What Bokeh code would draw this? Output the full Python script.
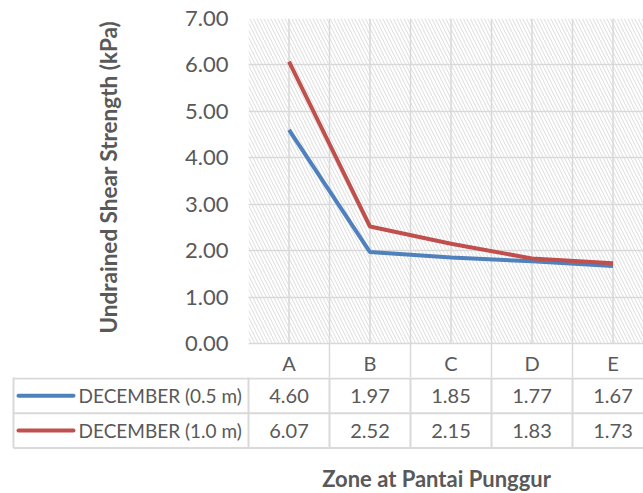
from bokeh.plotting import figure
from bokeh.models import Range1d, FixedTicker, PrintfTickFormatter, BoxAnnotation, Title
from bokeh.layouts import column, row
from bokeh.embed import file_html
from bokeh.resources import INLINE
from bokeh.core.properties import value

# ---------------- data ----------------
zones = ["A", "B", "C", "D", "E"]
series_names = ["DECEMBER (0.5 m)", "DECEMBER (1.0 m)"]
dec_05 = [4.60, 1.97, 1.85, 1.77, 1.67]
dec_10 = [6.07, 2.52, 2.15, 1.83, 1.73]
y_ticks = [0, 1, 2, 3, 4, 5, 6, 7]
colors = ["#4F81BD", "#C0504D"]

FONT = "Lato"
TXT = "#595959"
GRID = "#d9d9d9"

W, H = 643, 493
LEFT = 248          # plot-area left edge (px)
TOP = 18
PLOT_BOTTOM = 343   # plot-area bottom (px)
HDR = 34            # table header row height (px), drawn under the plot area
COL_W = 81.0        # width of one category column (px)
ROW_H = 34.7        # table row height (px)
PX_UNIT = (PLOT_BOTTOM - TOP) / 7.0

xpos = [i + 0.5 for i in range(len(zones))]
x_end = (W - LEFT) / COL_W

# ---------------- chart (+ header row of the data table) ----------------
p = figure(width=W, height=PLOT_BOTTOM + HDR, output_backend="svg", toolbar_location=None,
           x_range=Range1d(0, x_end), y_range=Range1d(-HDR / PX_UNIT, 7),
           x_axis_location=None, min_border_left=LEFT, min_border_right=0,
           min_border_top=TOP, min_border_bottom=0)
p.outline_line_color = None
p.background_fill_color = "white"
p.border_fill_color = "white"

hatch = BoxAnnotation(bottom=0, fill_color="white", fill_alpha=1.0, line_color=None,
                      hatch_pattern="left_diagonal_line", hatch_color="#dcdcdc",
                      hatch_scale=7, hatch_weight=1, level="image")
p.add_layout(hatch)

p.ygrid.ticker = FixedTicker(ticks=y_ticks)
p.ygrid.grid_line_color = GRID
p.ygrid.grid_line_width = 1.5
# column boundaries (continue through the table header)
p.xgrid.ticker = FixedTicker(ticks=[float(i) for i in range(len(zones) + 1)])
p.xgrid.grid_line_color = GRID
p.xgrid.grid_line_width = 1.5
# gridlines through the category centres, inside the plot area only
p.segment(x0=xpos, y0=[y_ticks[0]] * len(xpos), x1=xpos, y1=[y_ticks[-1]] * len(xpos),
          line_color=GRID, line_width=1.5)

ax = p.yaxis[0]
ax.ticker = FixedTicker(ticks=y_ticks)
ax.formatter = PrintfTickFormatter(format="%.2f")
ax.axis_line_color = None
ax.major_tick_line_color = None
ax.minor_tick_line_color = None
ax.major_tick_out = 0
ax.major_label_standoff = 20
ax.major_label_text_font = FONT
ax.major_label_text_font_size = "22px"
ax.major_label_text_color = TXT

# y-axis title, placed alongside the plot area (not the header row)
ytitle = Title(text="Undrained Shear Strength (kPa)", align="left", offset=44,
               text_font=FONT, text_font_size="22.5px", text_font_style="bold",
               text_color=TXT, standoff=122)
p.add_layout(ytitle, "left")

for vals, c in zip([dec_05, dec_10], colors):
    p.line(xpos, vals, line_color=c, line_width=4)

# header row (zone letters)
p.text(x=xpos, y=[-(HDR / 2 + 2) / PX_UNIT] * len(zones), text=zones,
       text_align="center", text_baseline="middle",
       text_font=value(FONT), text_font_size="20px", text_color=TXT)

# ---------------- data table rows ----------------
# y in table-row units: 0 = top of first series row
TB_TOP = PLOT_BOTTOM + HDR
TB_H = H - TB_TOP
tb = figure(width=W, height=TB_H, output_backend="svg", toolbar_location=None,
            x_range=Range1d(-LEFT / COL_W, x_end),
            y_range=Range1d((TB_H - 1) / ROW_H, -1 / ROW_H),
            x_axis_location=None, y_axis_location=None,
            min_border_left=0, min_border_right=0, min_border_top=0, min_border_bottom=0)
tb.outline_line_color = None
tb.xgrid.visible = False
tb.ygrid.visible = False
tb.background_fill_color = "white"
tb.border_fill_color = "white"

n = len(zones)
n_rows = len(series_names)
tab_left = (13 - LEFT) / COL_W
# horizontal lines
hy = [float(r) for r in range(n_rows + 1)]
tb.segment(x0=[tab_left] * len(hy), y0=hy, x1=[x_end + 1] * len(hy), y1=hy,
           line_color=GRID, line_width=2)
# vertical lines
vx = [tab_left] + [float(i) for i in range(n + 1)]
tb.segment(x0=vx, y0=[-1] * len(vx), x1=vx, y1=[n_rows] * len(vx),
           line_color=GRID, line_width=2)

# values
for s, vals in enumerate([dec_05, dec_10]):
    tb.text(x=xpos, y=[0.5 + s] * n, text=["%.2f" % v for v in vals],
            text_align="center", text_baseline="middle",
            text_font=value(FONT), text_font_size="20px", text_color=TXT)

# legend keys
key_x0 = (18 - LEFT) / COL_W
key_x1 = (73 - LEFT) / COL_W
tb.segment(x0=[key_x0] * n_rows, y0=[0.5, 1.5], x1=[key_x1] * n_rows, y1=[0.5, 1.5],
           line_color=colors, line_width=4, line_cap="round")
tb.text(x=[(78 - LEFT) / COL_W] * n_rows, y=[0.5, 1.5], text=series_names,
        text_align="left", text_baseline="middle",
        text_font=value(FONT), text_font_size="19px", text_color=TXT)

# axis title
tb.text(x=[(436 - LEFT) / COL_W], y=[(478 - TB_TOP - 1) / ROW_H],
        text=["Zone at Pantai Punggur"], text_align="center", text_baseline="middle",
        text_font=value(FONT), text_font_size="22px", text_font_style="bold", text_color=TXT)

layout = column(p, row(tb, spacing=0), spacing=0)
open("out.html", "w").write(file_html(layout, INLINE))
